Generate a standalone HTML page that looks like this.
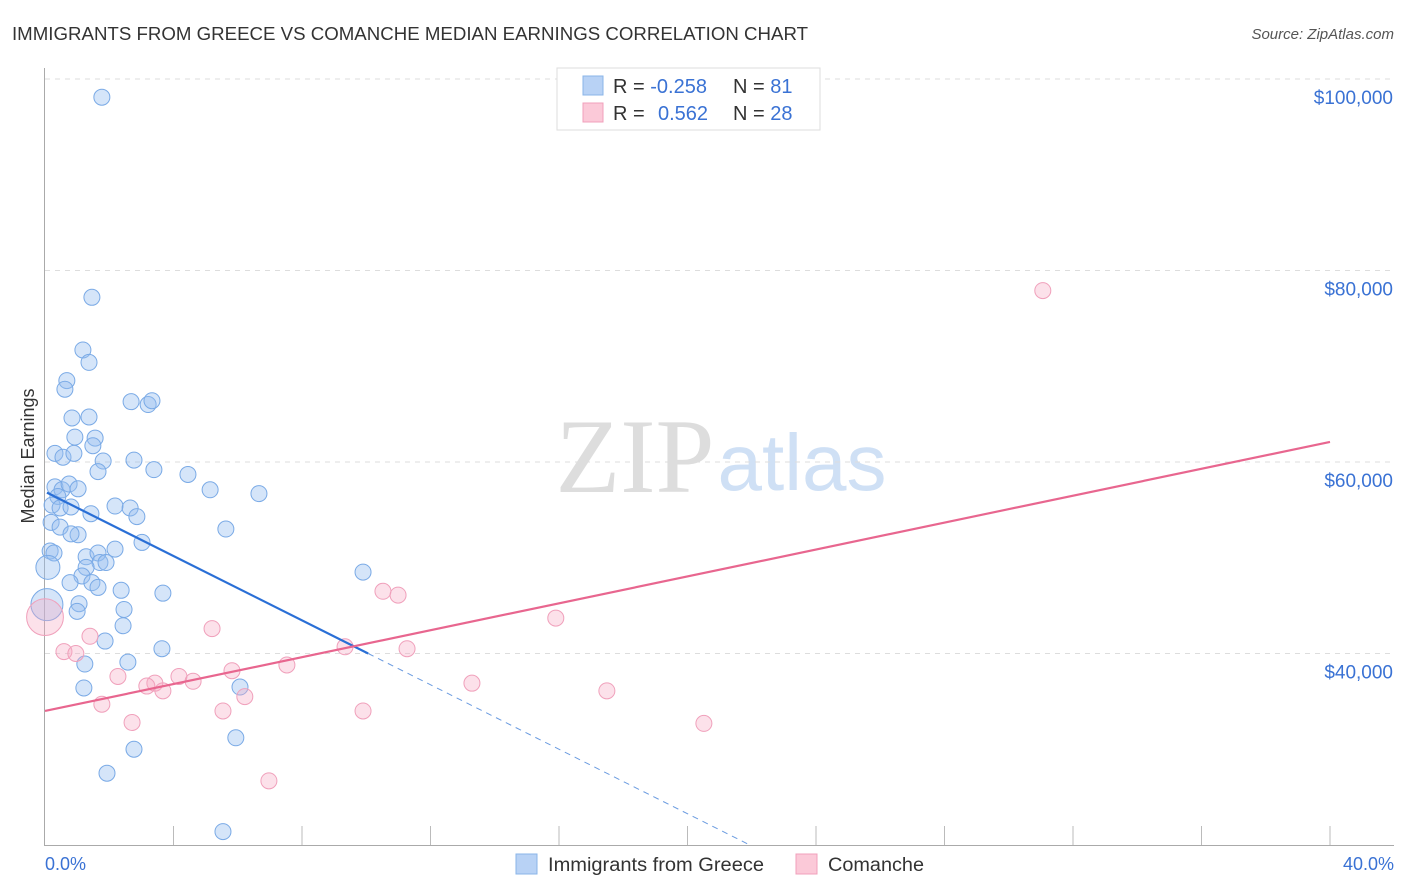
<!DOCTYPE html>
<html><head><meta charset="utf-8"><style>
body{margin:0;background:#fff;font-family:"Liberation Sans",sans-serif;}
svg{display:block}
</style></head><body>
<svg id="chart" width="1406" height="892" xmlns="http://www.w3.org/2000/svg">
<text x="12" y="40" font-size="18" fill="#333" textLength="796" lengthAdjust="spacingAndGlyphs">IMMIGRANTS FROM GREECE VS COMANCHE MEDIAN EARNINGS CORRELATION CHART</text>
<text x="1394" y="39" font-size="15" fill="#555" font-style="italic" text-anchor="end">Source: ZipAtlas.com</text>
<text x="635" y="492" font-size="106" fill="#ddd" font-family="Liberation Serif,serif" text-anchor="middle">ZIP</text>
<text x="802" y="490" font-size="80" fill="#cfe0f5" text-anchor="middle">atlas</text>
<g id="grid"></g>
<g id="axes"></g>
<g id="pts"></g>
<g id="lines"></g>
<text x="34" y="456" font-size="18" fill="#333" text-anchor="middle" transform="rotate(-90 34 456)">Median Earnings</text>
<text x="45" y="870" font-size="18" fill="#3a72d4">0.0%</text>
<text x="1394" y="870" font-size="18" fill="#3a72d4" text-anchor="end">40.0%</text>
<g>
<rect x="557" y="68" width="263" height="62" fill="#fff" stroke="#ddd"/>
<rect x="583" y="76" width="20" height="19" fill="#b8d2f5" stroke="#8ab4e8"/>
<rect x="583" y="103" width="20" height="19" fill="#fbc9d8" stroke="#f0a0bb"/>
<text x="613" y="93" font-size="20" fill="#333">R = <tspan fill="#3a72d4">-0.258</tspan></text>
<text x="733" y="93" font-size="20" fill="#333">N = <tspan fill="#3a72d4">81</tspan></text>
<text x="613" y="120" font-size="20" fill="#333">R = <tspan fill="#3a72d4" x="658">0.562</tspan></text>
<text x="733" y="120" font-size="20" fill="#333">N = <tspan fill="#3a72d4">28</tspan></text>
</g>
<g>
<rect x="516" y="854" width="21" height="20" fill="#b8d2f5" stroke="#8ab4e8"/>
<text x="548" y="871" font-size="19" fill="#333" textLength="216" lengthAdjust="spacingAndGlyphs">Immigrants from Greece</text>
<rect x="796" y="854" width="21" height="20" fill="#fbc9d8" stroke="#f0a0bb"/>
<text x="828" y="871" font-size="19" fill="#333" textLength="96" lengthAdjust="spacingAndGlyphs">Comanche</text>
</g>
</svg>
<script>
const yTicks=[40000,60000,80000,100000];
const yTickLabels=["$40,000","$60,000","$80,000","$100,000"];
const blueX=[1.77,1.46,1.18,1.37,0.68,0.62,0.84,1.37,2.68,3.21,3.33,0.93,1.56,1.49,0.31,0.56,0.90,1.81,2.77,1.65,3.39,4.45,5.14,6.66,0.31,0.53,0.75,1.03,0.40,0.22,0.47,0.81,2.18,2.65,2.86,1.43,0.19,0.47,5.63,1.03,0.81,3.02,0.16,0.28,1.28,1.65,2.18,1.71,1.90,1.28,0.09,1.15,0.78,1.46,1.65,9.90,2.37,3.67,1.06,0.06,2.46,1.00,2.43,1.87,3.64,1.24,2.58,1.21,6.07,2.77,5.94,1.93,5.54];
const blueY=[98.1,77.2,71.7,70.4,68.5,67.6,64.6,64.7,66.3,66.0,66.4,62.6,62.5,61.7,60.9,60.5,60.9,60.1,60.2,59.0,59.2,58.7,57.1,56.7,57.4,57.1,57.7,57.2,56.4,55.5,55.2,55.3,55.4,55.2,54.3,54.6,53.7,53.2,53.0,52.4,52.5,51.6,50.7,50.5,50.1,50.5,50.9,49.5,49.5,49.0,49.0,48.1,47.4,47.4,46.9,48.5,46.6,46.3,45.2,45.1,44.6,44.4,42.9,41.3,40.5,38.9,39.1,36.4,36.5,30.0,31.2,27.5,21.4];
const blueSize=[1,1,1,1,1,1,1,1,1,1,1,1,1,1,1,1,1,1,1,1,1,1,1,1,1,1,1,1,1,1,1,1,1,1,1,1,1,1,1,1,1,1,1,1,1,1,1,1,1,1,1.5,1,1,1,1,1,1,1,1,2,1,1,1,1,1,1,1,1,1,1,1,1,1];
const pinkX=[31.06,10.52,10.99,15.90,5.20,1.40,0.59,0.96,11.27,9.34,2.27,4.17,5.82,7.53,4.61,3.42,3.17,3.67,6.22,1.77,5.54,9.90,13.29,17.49,20.51,2.71,6.97,0.0];
const pinkY=[77.9,46.5,46.1,43.7,42.6,41.8,40.2,40.0,40.5,40.7,37.6,37.6,38.2,38.8,37.1,36.9,36.6,36.1,35.5,34.7,34.0,34.0,36.9,36.1,32.7,32.8,26.7,43.8];
const pinkSize=[1,1,1,1,1,1,1,1,1,1,1,1,1,1,1,1,1,1,1,1,1,1,1,1,1,1,1,2.3];
const blueTrend=[[0.06,56.8],[10.06,40.0],[21.94,20.0]];
const pinkTrend=[[0,34.0],[40,62.1]];
const NS="http://www.w3.org/2000/svg";
function xs(p){return 45+p*32.125;}
function ys(k){return 845-(k-20)*9.575;}
function mk(t,a,parent){const e=document.createElementNS(NS,t);for(const k in a)e.setAttribute(k,a[k]);document.getElementById(parent).appendChild(e);return e;}
yTicks.forEach((v,i)=>{
  const y=ys(v/1000);
  const l=mk('line',{x1:45,x2:1394,y1:y,y2:y,stroke:'#ddd','stroke-dasharray':'5,5'},'grid');
  
  
  const t=mk('text',{x:1393,y:y+25,'font-size':19,fill:'#3a72d4','text-anchor':'end'},'grid');
  t.textContent=yTickLabels[i];
  
  
});
const ax=mk('line',{x1:44.5,x2:44.5,y1:68,y2:845,stroke:'#aaa'},'axes');


const bx=mk('line',{x1:44,x2:1394,y1:845.5,y2:845.5,stroke:'#aaa'},'axes');


for(let i=1;i<=10;i++){
  const x=xs(i*4);
  const t=mk('line',{x1:x,x2:x,y1:826,y2:845,stroke:'#bbb'},'axes');
  
  
}
blueX.forEach((v,i)=>{
  const c=mk('circle',{cx:xs(v),cy:ys(blueY[i]),r:8*blueSize[i],fill:'rgba(150,190,240,0.4)',stroke:'#7aaae6','stroke-width':1},'pts');
  
  
});
pinkX.forEach((v,i)=>{
  const c=mk('circle',{cx:xs(v),cy:ys(pinkY[i]),r:8*pinkSize[i],fill:'rgba(245,170,195,0.35)',stroke:'#f0a0bb','stroke-width':1},'pts');
  
  
});
const b1=mk('line',{x1:xs(blueTrend[0][0]),y1:ys(blueTrend[0][1]),x2:xs(blueTrend[1][0]),y2:ys(blueTrend[1][1]),stroke:'#2a6fd6','stroke-width':2.2},'lines');


const b2=mk('line',{x1:xs(blueTrend[1][0]),y1:ys(blueTrend[1][1]),x2:xs(blueTrend[2][0]),y2:ys(blueTrend[2][1]),stroke:'#6a9be0','stroke-width':1,'stroke-dasharray':'6,5'},'lines');


const p1=mk('line',{x1:xs(pinkTrend[0][0]),y1:ys(pinkTrend[0][1]),x2:xs(pinkTrend[1][0]),y2:ys(pinkTrend[1][1]),stroke:'#e8668f','stroke-width':2.2},'lines');


</script>
</body></html>
